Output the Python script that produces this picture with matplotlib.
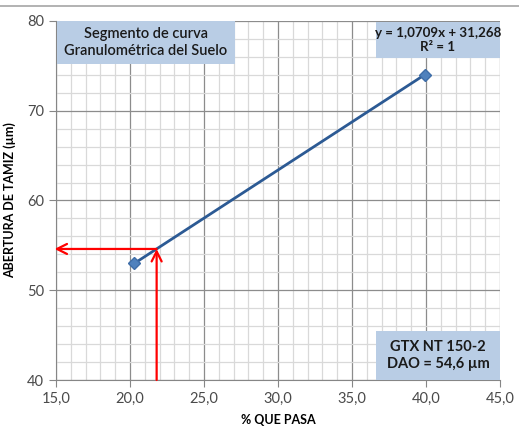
import matplotlib
matplotlib.use("Agg")
import matplotlib.pyplot as plt
from matplotlib.ticker import MultipleLocator, FuncFormatter
from matplotlib.lines import Line2D
from matplotlib.patches import Rectangle

x_pts = [20.3, 39.9]
y_pts = [53.0, 74.0]
dao_x = 21.8
dao_y = 54.6
title_text = "Segmento de curva\nGranulométrica del Suelo"
eq_text = "y = 1,0709x + 31,268\nR² = 1"
gtx_text = "GTX NT 150-2\nDAO = 54,6 µm"
xlabel = "% QUE PASA"
ylabel = "ABERTURA DE TAMIZ (µm)"

plt.rcParams['font.family'] = ['Lato', 'DejaVu Sans']

W, H = 519, 436
fig = plt.figure(figsize=(W/100, H/100), dpi=100)
ax = fig.add_axes([56/W, 1-380/H, 444/W, 359/H])
ax.set_xlim(15, 45)
ax.set_ylim(40, 80)

ax.xaxis.set_major_locator(MultipleLocator(5))
ax.xaxis.set_minor_locator(MultipleLocator(1))
ax.yaxis.set_major_locator(MultipleLocator(10))
ax.yaxis.set_minor_locator(MultipleLocator(2))
ax.xaxis.set_major_formatter(FuncFormatter(lambda v, p: f"{v:.1f}".replace('.', ',')))
ax.yaxis.set_major_formatter(FuncFormatter(lambda v, p: f"{v:.0f}"))

ax.grid(which='minor', color='#D9D9D9', linewidth=0.9)
ax.grid(which='major', color='#8C8C8C', linewidth=0.9)
ax.set_axisbelow(True)
for s in ['top', 'right']:
    ax.spines[s].set_visible(False)
for s in ['left', 'bottom']:
    ax.spines[s].set_color('#868686')
ax.tick_params(which='major', length=5, color='#868686', labelsize=10.5, labelcolor='#4A4A4A', direction='out')
ax.tick_params(which='minor', length=0)

ax.plot(x_pts, y_pts, color='#2C5A94', linewidth=2, zorder=3)
ax.plot(x_pts, y_pts, linestyle='none', marker='D', markersize=6.5,
        color='#4F81BD', markeredgecolor='#3E6DA8', zorder=4)

# red arrows
ax.annotate('', xy=(dao_x, dao_y), xytext=(dao_x, 40), zorder=5,
            arrowprops=dict(arrowstyle='->', color='red', lw=1.6,
                            mutation_scale=18, shrinkA=0, shrinkB=0))
ax.annotate('', xy=(14.9, dao_y), xytext=(dao_x, dao_y), zorder=5,
            arrowprops=dict(arrowstyle='->', color='red', lw=1.6,
                            mutation_scale=18, shrinkA=0, shrinkB=0),
            annotation_clip=False)

ax.set_xlabel(xlabel, fontsize=9, fontweight='bold', labelpad=6)
ax.set_ylabel(ylabel, fontsize=9, fontweight='bold', labelpad=8)

def panel(x0, y0, x1, y1, text, weight, size):
    fig.add_artist(Rectangle((x0/W, 1-y1/H), (x1-x0)/W, (y1-y0)/H,
                             transform=fig.transFigure, facecolor='#B9CDE5',
                             edgecolor='none', zorder=6))
    fig.text((x0+x1)/2/W, 1-(y0+y1)/2/H, text, ha='center', va='center',
             fontsize=size, fontweight=weight, color='#1A1A1A',
             linespacing=1.25, zorder=7)

panel(57, 21, 235, 64, title_text, 'semibold', 10.5)
panel(376, 22, 500, 58, eq_text, 'bold', 9.6)
panel(376, 331, 500, 380, gtx_text, 'bold', 10.5)

fig.add_artist(Line2D([0, 1], [1-6/H, 1-6/H], color='#A6A6A6', linewidth=1.2))

fig.savefig('out.png', dpi=100)
